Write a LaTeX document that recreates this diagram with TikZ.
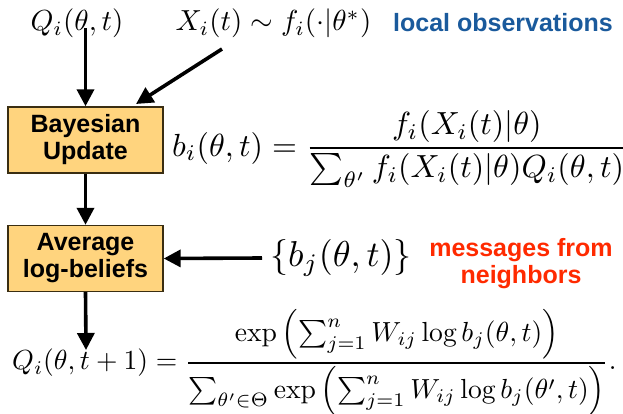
\documentclass[tikz,border=0pt]{standalone}
\usepackage{amsmath}
\usepackage{graphicx}
\usepackage{fontspec}
\newfontfamily\hv{Liberation Sans}
\usetikzlibrary{arrows.meta}
\definecolor{boxfill}{HTML}{FFD47E}
\definecolor{boxline}{HTML}{3A2E12}
\definecolor{obsblue}{HTML}{1A5A9C}
\definecolor{msgred}{HTML}{FF2A00}
\tikzset{
  procbox/.style={draw=boxline, line width=1.4pt, fill=boxfill, minimum width=155pt, minimum height=66pt,
    align=center, inner sep=0pt, font=\hv\bfseries\fontsize{25}{27}\selectfont},
  flow/.style={line width=3.6pt, -{Triangle[length=17pt,width=17pt]}},
  lbl/.style={inner sep=0pt},
  sanslbl/.style={inner sep=0pt, font=\hv\bfseries\fontsize{25}{27}\selectfont, align=center}
}
\begin{document}
\begin{tikzpicture}[x=1pt,y=-1pt]
\useasboundingbox (0,0) rectangle (623,414);
% top labels
\node[lbl, anchor=base] (Q) at (77,31) {\scalebox{2.9}{$Q_i(\theta,t)$}};
\node[lbl, anchor=base] (X) at (273.5,31) {\scalebox{2.9}{$X_i(t)\sim f_i(\cdot|\theta^{*})$}};
\node[sanslbl, anchor=base west, text=obsblue] (obs) at (393,32) {local observations};
% boxes
\node[procbox] (bayes) at (85.5,140) {Bayesian\\Update};
\node[procbox] (avg) at (85.5,258.5) {Average\\log-beliefs};
% b_i formula
\node[lbl, anchor=west] (bform) at (172,149) {\scalebox{3.2}{$\displaystyle b_i(\theta,t)=\frac{f_i(X_i(t)|\theta)}{\sum_{\theta'} f_i(X_i(t)|\theta)Q_i(\theta,t)}$}};
% messages
\node[lbl, anchor=west] (bj) at (270,258) {\scalebox{3.6}{$\{b_j(\theta,t)\}$}};
\node[sanslbl, text=msgred] (msg) at (521,264) {messages from\\neighbors};
% bottom formula
\node[lbl, anchor=west] (qform) at (12,363) {\scalebox{2.76}{$\displaystyle Q_i(\theta,t+1)=\frac{\exp\left(\sum_{j=1}^{n}W_{ij}\log b_j(\theta,t)\right)}{\sum_{\theta'\in\Theta}\exp\left(\sum_{j=1}^{n}W_{ij}\log b_j(\theta',t)\right)}.$}};
% connectors
\coordinate (xstart) at (222,49);
\coordinate (xend) at (136,104);
\coordinate (qtop) at (86,350);
\draw[flow] (bayes.north |- Q.south) ++(0,-10) -- (bayes.north);
\draw[flow] (xstart) -- (xend);
\draw[flow] (bayes.south) -- (avg.north);
\draw[flow] (bj.west) ++(-8,0) -- (avg.east);
\draw[flow] (avg.south) -- (qtop);
\end{tikzpicture}
\end{document}
